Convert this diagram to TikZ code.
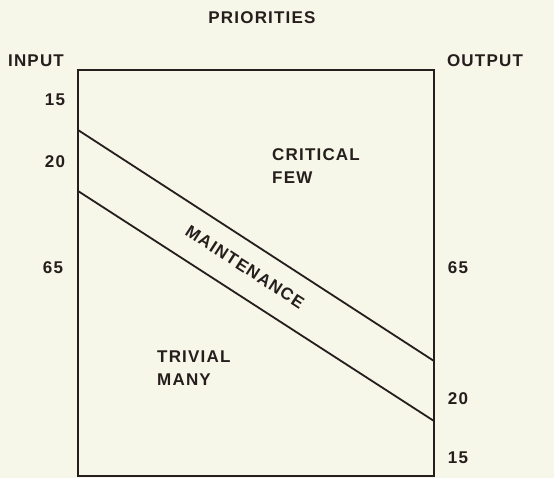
\documentclass[tikz,border=0pt]{standalone}
\usepackage{fontspec}
\setmainfont[LetterSpace=7]{Liberation Sans}
\usepackage{xcolor}
\definecolor{paper}{RGB}{246,246,233}
\definecolor{ink}{RGB}{38,30,28}

\begin{document}
\begin{tikzpicture}[x=1pt,y=-1pt]
    \tikzstyle{T}=[font=\fontsize{17}{23}\selectfont\bfseries,text=ink,inner sep=0pt]
    \tikzstyle{W}=[ink,line width=1.8pt]

    % Paper
    \fill [paper] (0,0) rectangle (554,478);
    \useasboundingbox (0,0) rectangle (554,478);

    % Draw frame
    \draw [W] (78,70) rectangle (434,476);

    % Band edges
    \coordinate (in20) at (78,130);
    \coordinate (out20) at (434,361);
    \coordinate (in15) at (78,191);
    \coordinate (out15) at (434,421);
    \draw [W] (in20) -- (out20);
    \draw [W] (in15) -- (out15);

    \node [T] (title) at (262,18) {PRIORITIES};
    \node [T] (input) at (36,61) {INPUT};
    \node [T] (output) at (485,61) {OUTPUT};

    \node [T] (l15) at (55,100) {15};
    \node [T] (l20) at (55,162) {20};
    \node [T] (l65) at (53,268) {65};
    \node [T] (r65) at (458,268) {65};
    \node [T] (r20) at (458,399) {20};
    \node [T] (r15) at (458,458) {15};

    \node [T,align=left,anchor=north west] (crit) at (272,148) {CRITICAL\\FEW};
    \node [T,align=left,anchor=north west] (triv) at (157,351) {TRIVIAL\\MANY};

    % Band label
    \node [T,rotate=-33] (maint) at (245,267) {MAINTENANCE};
\end{tikzpicture}
\end{document}
